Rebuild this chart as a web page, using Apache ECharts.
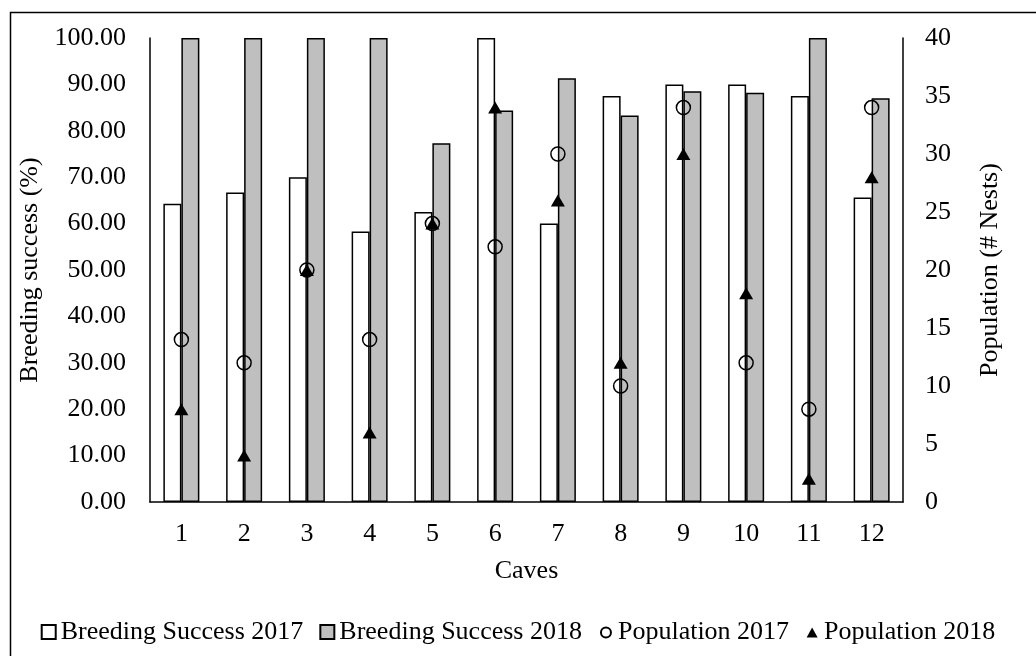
<!DOCTYPE html>
<html>
<head>
<meta charset="utf-8">
<script src="https://cdn.jsdelivr.net/npm/echarts@6/dist/echarts.min.js"></script>
<style>
html,body{margin:0;padding:0;background:#fff;}
#chart{width:1036px;height:656px;}
</style>
</head>
<body>
<div id="chart"></div>
<script>
var caves = ['1','2','3','4','5','6','7','8','9','10','11','12'];
var breeding2017 = [64.3, 66.7, 70.0, 58.3, 62.5, 100, 60.0, 87.5, 90.0, 90.0, 87.5, 65.6];
var breeding2018 = [100, 100, 100, 100, 77.3, 84.4, 91.3, 83.3, 88.5, 88.2, 100, 87.0];
var population2017 = [14, 12, 20, 14, 24, 22, 30, 10, 34, 12, 8, 34];
var population2018 = [8, 4, 20, 6, 24, 34, 26, 12, 30, 18, 2, 28];

var FONT = 'Liberation Serif';
var FS = 26;
var chart = echarts.init(document.getElementById('chart'));
chart.setOption({
  animation: false,
  backgroundColor: '#ffffff',
  textStyle: { fontFamily: FONT, color: '#000' },
  graphic: [{
    type: 'rect', left: 8, top: 10, z: -1,
    shape: { width: 1060, height: 700 },
    style: { fill: 'none', stroke: '#000', lineWidth: 1.5 }
  }],
  grid: { left: 150, top: 38, width: 753, height: 464 },
  legend: {
    top: 614, left: 'center',
    itemWidth: 14, itemHeight: 14, itemGap: 16,
    textStyle: { fontFamily: FONT, fontSize: FS, color: '#000' },
    data: [
      { name: 'Breeding Success 2017', icon: 'rect' },
      { name: 'Breeding Success 2018', icon: 'rect' },
      { name: 'Population 2017', icon: 'path://M0,0M14,14M2,7.5A5,5,0,1,0,12,7.5A5,5,0,1,0,2,7.5Z' },
      { name: 'Population 2018', icon: 'path://M0,0M14,14M1.5,12.5L7,2.5L12.5,12.5Z' }
    ]
  },
  xAxis: {
    type: 'category', data: caves,
    name: 'Caves', nameLocation: 'middle', nameGap: 56,
    nameTextStyle: { fontFamily: FONT, fontSize: FS, color: '#000' },
    axisLine: { lineStyle: { color: '#000', width: 1.5 } },
    axisTick: { show: false },
    axisLabel: { fontFamily: FONT, fontSize: FS, color: '#000', margin: 19 }
  },
  yAxis: [{
    type: 'value', min: 0, max: 100, interval: 10,
    name: 'Breeding success (%)', nameLocation: 'middle', nameGap: 102,
    nameTextStyle: { fontFamily: FONT, fontSize: FS, color: '#000' },
    axisLine: { show: true, lineStyle: { color: '#000', width: 1.5 } },
    axisTick: { show: false },
    splitLine: { show: false },
    axisLabel: { fontFamily: FONT, fontSize: FS, color: '#000', margin: 24,
      formatter: function (v) { return v.toFixed(2); } }
  }, {
    type: 'value', min: 0, max: 40, interval: 5, position: 'right',
    name: 'Population (# Nests)', nameLocation: 'middle', nameGap: 74,
    nameTextStyle: { fontFamily: FONT, fontSize: FS, color: '#000' },
    axisLine: { show: true, lineStyle: { color: '#000', width: 1.5 } },
    axisTick: { show: false },
    splitLine: { show: false },
    axisLabel: { fontFamily: FONT, fontSize: FS, color: '#000', margin: 22 }
  }],
  series: [{
    name: 'Breeding Success 2017', type: 'bar', data: breeding2017,
    barWidth: 18, barGap: '0%',
    itemStyle: { color: '#ffffff', borderColor: '#000', borderWidth: 1.5 }
  }, {
    name: 'Breeding Success 2018', type: 'bar', data: breeding2018,
    barWidth: 18,
    itemStyle: { color: '#bfbfbf', borderColor: '#000', borderWidth: 1.5 }
  }, {
    name: 'Population 2017', type: 'scatter', yAxisIndex: 1, data: population2017,
    symbol: 'circle', symbolSize: 14, z: 5,
    itemStyle: { color: 'rgba(0,0,0,0)', borderColor: '#000', borderWidth: 1.5, opacity: 1 }
  }, {
    name: 'Population 2018', type: 'scatter', yAxisIndex: 1, data: population2018,
    symbol: 'triangle', symbolSize: [14, 12], z: 6,
    itemStyle: { color: '#000', opacity: 1 }
  }]
});
</script>
</body>
</html>
